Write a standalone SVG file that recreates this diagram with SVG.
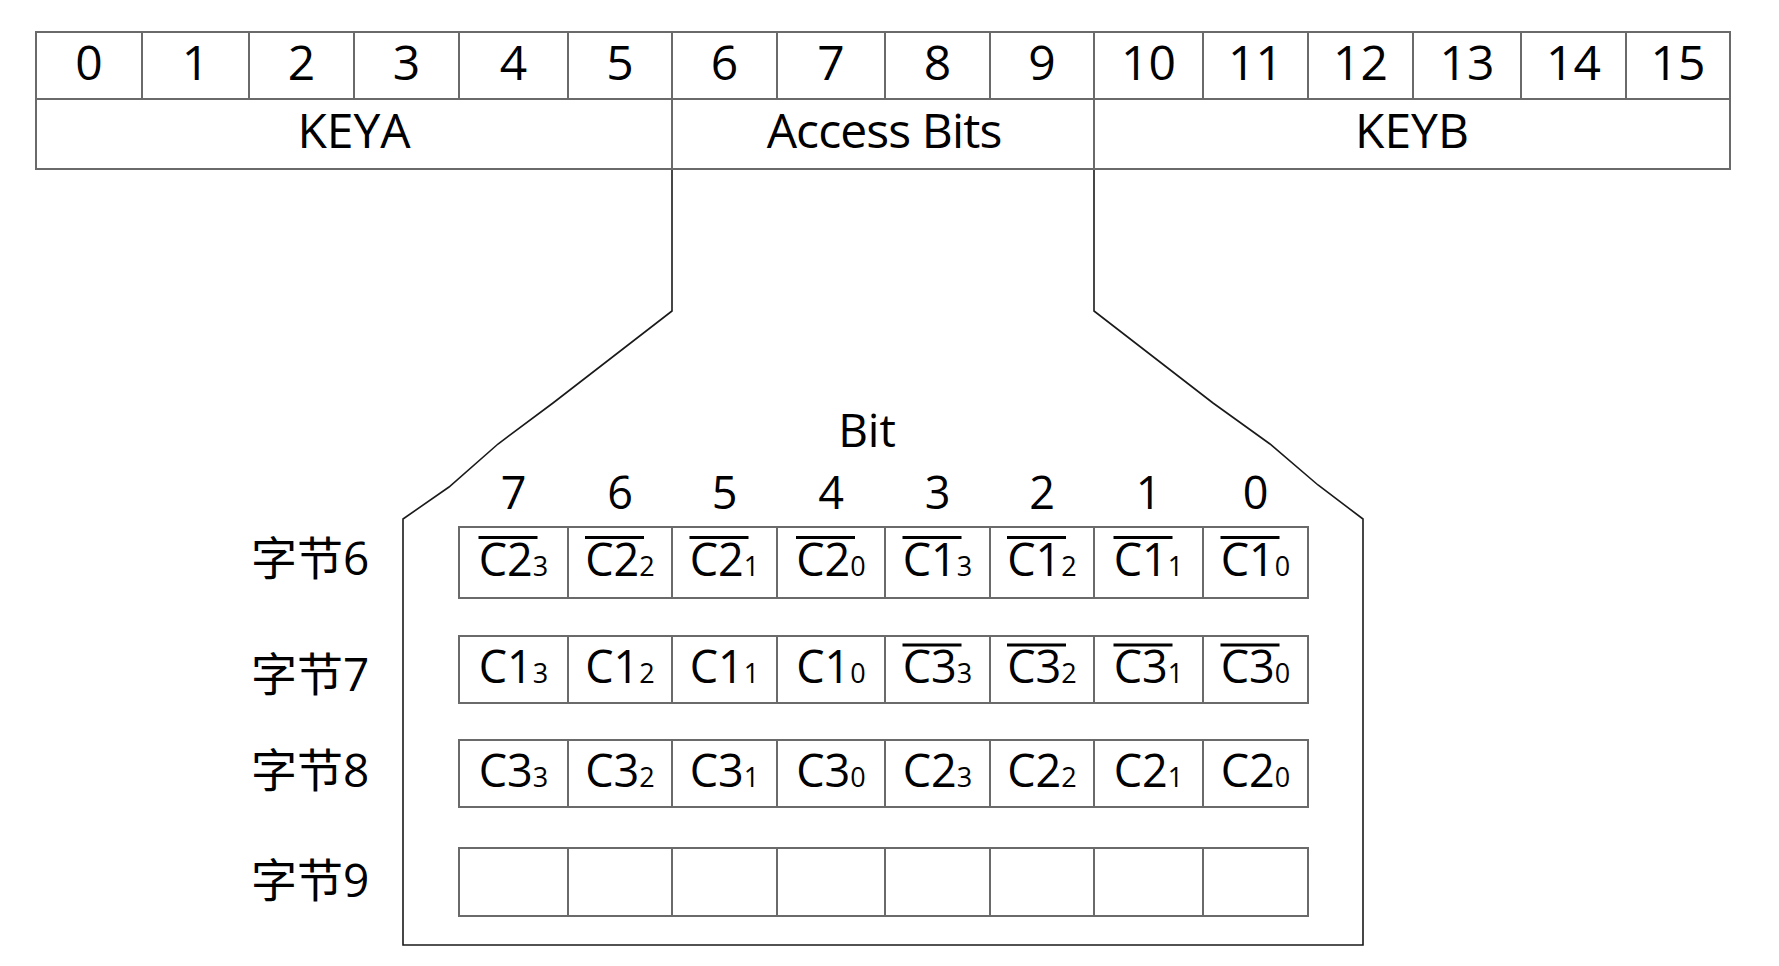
<svg xmlns="http://www.w3.org/2000/svg" width="1779" height="966" viewBox="0 0 1779 966">
<style>
.bg{fill:#ffffff}
.cell{fill:#ffffff;stroke:#6a6a6a;stroke-width:2}
.t{font-family:"Open Sans","Noto Sans CJK SC",sans-serif;fill:#000;text-anchor:middle}
.big{font-size:48px}
.mid{font-size:45px}
.sub{font-size:27px}
.lbl{font-family:"Open Sans","Noto Sans CJK SC",sans-serif;fill:#000;font-size:46px}
.bar{stroke:#000;stroke-width:3}
.conn{fill:none;stroke:#1a1a1a;stroke-width:1.6;stroke-linejoin:miter}
</style>
<rect class="bg" x="0" y="0" width="1779" height="966"/>

<g id="connectors">
<path class="conn" d="M672,169 L672,311 L553,403 L498,444 L449,487 L403,519 L403,945 L1363,945 L1363,519 L1318,485 L1270,444 L1213,403 L1094,311 L1094,169"/>
</g>

<g id="byte-0"><rect class="cell" x="36" y="32" width="106" height="67"/><text class="t big" x="89" y="80">0</text></g>
<g id="byte-1"><rect class="cell" x="142" y="32" width="107" height="67"/><text class="t big" x="195.5" y="80">1</text></g>
<g id="byte-2"><rect class="cell" x="249" y="32" width="105" height="67"/><text class="t big" x="301.5" y="80">2</text></g>
<g id="byte-3"><rect class="cell" x="354" y="32" width="105" height="67"/><text class="t big" x="406.5" y="80">3</text></g>
<g id="byte-4"><rect class="cell" x="459" y="32" width="109" height="67"/><text class="t big" x="513.5" y="80">4</text></g>
<g id="byte-5"><rect class="cell" x="568" y="32" width="104" height="67"/><text class="t big" x="620" y="80">5</text></g>
<g id="byte-6"><rect class="cell" x="672" y="32" width="105" height="67"/><text class="t big" x="724.5" y="80">6</text></g>
<g id="byte-7"><rect class="cell" x="777" y="32" width="108" height="67"/><text class="t big" x="831" y="80">7</text></g>
<g id="byte-8"><rect class="cell" x="885" y="32" width="105" height="67"/><text class="t big" x="937.5" y="80">8</text></g>
<g id="byte-9"><rect class="cell" x="990" y="32" width="104" height="67"/><text class="t big" x="1042" y="80">9</text></g>
<g id="byte-10"><rect class="cell" x="1094" y="32" width="109" height="67"/><text class="t big" x="1148.5" y="80">10</text></g>
<g id="byte-11"><rect class="cell" x="1203" y="32" width="105" height="67"/><text class="t big" x="1255.5" y="80">11</text></g>
<g id="byte-12"><rect class="cell" x="1308" y="32" width="105" height="67"/><text class="t big" x="1360.5" y="80">12</text></g>
<g id="byte-13"><rect class="cell" x="1413" y="32" width="108" height="67"/><text class="t big" x="1467" y="80">13</text></g>
<g id="byte-14"><rect class="cell" x="1521" y="32" width="105" height="67"/><text class="t big" x="1573.5" y="80">14</text></g>
<g id="byte-15"><rect class="cell" x="1626" y="32" width="104" height="67"/><text class="t big" x="1678" y="80">15</text></g>

<g id="keya"><rect class="cell" x="36" y="99" width="636" height="70"/><text class="t big" x="354" y="148">KEYA</text></g>
<g id="access-bits"><rect class="cell" x="672" y="99" width="422" height="70"/><text class="t big" x="884" y="148" letter-spacing="-0.9">Access Bits</text></g>
<g id="keyb"><rect class="cell" x="1094" y="99" width="636" height="70"/><text class="t big" x="1412" y="148">KEYB</text></g>

<g id="bit-title"><text class="t lbl" x="867" y="447">Bit</text></g>
<g id="bit-numbers">
<text class="t mid" x="513.5" y="509">7</text>
<text class="t mid" x="620" y="509">6</text>
<text class="t mid" x="724.5" y="509">5</text>
<text class="t mid" x="831" y="509">4</text>
<text class="t mid" x="937.5" y="509">3</text>
<text class="t mid" x="1042" y="509">2</text>
<text class="t mid" x="1148.5" y="509">1</text>
<text class="t mid" x="1255.5" y="509">0</text>
</g>

<g id="label-byte6"><text class="lbl" x="251" y="575">字节6</text></g>
<g id="label-byte7"><text class="lbl" x="251" y="691">字节7</text></g>
<g id="label-byte8"><text class="lbl" x="251" y="787">字节8</text></g>
<g id="label-byte9"><text class="lbl" x="251" y="897">字节9</text></g>

<!-- Row byte 6 -->
<g id="b6-7"><rect class="cell" x="459" y="527" width="109" height="71"/><line class="bar" x1="478.5" y1="537.5" x2="537.5" y2="537.5"/><text class="t mid" x="513.5" y="576">C2<tspan class="sub">3</tspan></text></g>
<g id="b6-6"><rect class="cell" x="568" y="527" width="104" height="71"/><line class="bar" x1="585" y1="537.5" x2="644" y2="537.5"/><text class="t mid" x="620" y="576">C2<tspan class="sub">2</tspan></text></g>
<g id="b6-5"><rect class="cell" x="672" y="527" width="105" height="71"/><line class="bar" x1="689.5" y1="537.5" x2="748.5" y2="537.5"/><text class="t mid" x="724.5" y="576">C2<tspan class="sub">1</tspan></text></g>
<g id="b6-4"><rect class="cell" x="777" y="527" width="108" height="71"/><line class="bar" x1="796" y1="537.5" x2="855" y2="537.5"/><text class="t mid" x="831" y="576">C2<tspan class="sub">0</tspan></text></g>
<g id="b6-3"><rect class="cell" x="885" y="527" width="105" height="71"/><line class="bar" x1="902.5" y1="537.5" x2="961.5" y2="537.5"/><text class="t mid" x="937.5" y="576">C1<tspan class="sub">3</tspan></text></g>
<g id="b6-2"><rect class="cell" x="990" y="527" width="104" height="71"/><line class="bar" x1="1007" y1="537.5" x2="1066" y2="537.5"/><text class="t mid" x="1042" y="576">C1<tspan class="sub">2</tspan></text></g>
<g id="b6-1"><rect class="cell" x="1094" y="527" width="109" height="71"/><line class="bar" x1="1113.5" y1="537.5" x2="1172.5" y2="537.5"/><text class="t mid" x="1148.5" y="576">C1<tspan class="sub">1</tspan></text></g>
<g id="b6-0"><rect class="cell" x="1203" y="527" width="105" height="71"/><line class="bar" x1="1220.5" y1="537.5" x2="1279.5" y2="537.5"/><text class="t mid" x="1255.5" y="576">C1<tspan class="sub">0</tspan></text></g>

<!-- Row byte 7 -->
<g id="b7-7"><rect class="cell" x="459" y="636" width="109" height="67"/><text class="t mid" x="513.5" y="683">C1<tspan class="sub">3</tspan></text></g>
<g id="b7-6"><rect class="cell" x="568" y="636" width="104" height="67"/><text class="t mid" x="620" y="683">C1<tspan class="sub">2</tspan></text></g>
<g id="b7-5"><rect class="cell" x="672" y="636" width="105" height="67"/><text class="t mid" x="724.5" y="683">C1<tspan class="sub">1</tspan></text></g>
<g id="b7-4"><rect class="cell" x="777" y="636" width="108" height="67"/><text class="t mid" x="831" y="683">C1<tspan class="sub">0</tspan></text></g>
<g id="b7-3"><rect class="cell" x="885" y="636" width="105" height="67"/><line class="bar" x1="902.5" y1="645" x2="961.5" y2="645"/><text class="t mid" x="937.5" y="683">C3<tspan class="sub">3</tspan></text></g>
<g id="b7-2"><rect class="cell" x="990" y="636" width="104" height="67"/><line class="bar" x1="1007" y1="645" x2="1066" y2="645"/><text class="t mid" x="1042" y="683">C3<tspan class="sub">2</tspan></text></g>
<g id="b7-1"><rect class="cell" x="1094" y="636" width="109" height="67"/><line class="bar" x1="1113.5" y1="645" x2="1172.5" y2="645"/><text class="t mid" x="1148.5" y="683">C3<tspan class="sub">1</tspan></text></g>
<g id="b7-0"><rect class="cell" x="1203" y="636" width="105" height="67"/><line class="bar" x1="1220.5" y1="645" x2="1279.5" y2="645"/><text class="t mid" x="1255.5" y="683">C3<tspan class="sub">0</tspan></text></g>

<!-- Row byte 8 -->
<g id="b8-7"><rect class="cell" x="459" y="740" width="109" height="67"/><text class="t mid" x="513.5" y="787">C3<tspan class="sub">3</tspan></text></g>
<g id="b8-6"><rect class="cell" x="568" y="740" width="104" height="67"/><text class="t mid" x="620" y="787">C3<tspan class="sub">2</tspan></text></g>
<g id="b8-5"><rect class="cell" x="672" y="740" width="105" height="67"/><text class="t mid" x="724.5" y="787">C3<tspan class="sub">1</tspan></text></g>
<g id="b8-4"><rect class="cell" x="777" y="740" width="108" height="67"/><text class="t mid" x="831" y="787">C3<tspan class="sub">0</tspan></text></g>
<g id="b8-3"><rect class="cell" x="885" y="740" width="105" height="67"/><text class="t mid" x="937.5" y="787">C2<tspan class="sub">3</tspan></text></g>
<g id="b8-2"><rect class="cell" x="990" y="740" width="104" height="67"/><text class="t mid" x="1042" y="787">C2<tspan class="sub">2</tspan></text></g>
<g id="b8-1"><rect class="cell" x="1094" y="740" width="109" height="67"/><text class="t mid" x="1148.5" y="787">C2<tspan class="sub">1</tspan></text></g>
<g id="b8-0"><rect class="cell" x="1203" y="740" width="105" height="67"/><text class="t mid" x="1255.5" y="787">C2<tspan class="sub">0</tspan></text></g>

<!-- Row byte 9 -->
<g id="b9-7"><rect class="cell" x="459" y="848" width="109" height="68"/></g>
<g id="b9-6"><rect class="cell" x="568" y="848" width="104" height="68"/></g>
<g id="b9-5"><rect class="cell" x="672" y="848" width="105" height="68"/></g>
<g id="b9-4"><rect class="cell" x="777" y="848" width="108" height="68"/></g>
<g id="b9-3"><rect class="cell" x="885" y="848" width="105" height="68"/></g>
<g id="b9-2"><rect class="cell" x="990" y="848" width="104" height="68"/></g>
<g id="b9-1"><rect class="cell" x="1094" y="848" width="109" height="68"/></g>
<g id="b9-0"><rect class="cell" x="1203" y="848" width="105" height="68"/></g>
</svg>
